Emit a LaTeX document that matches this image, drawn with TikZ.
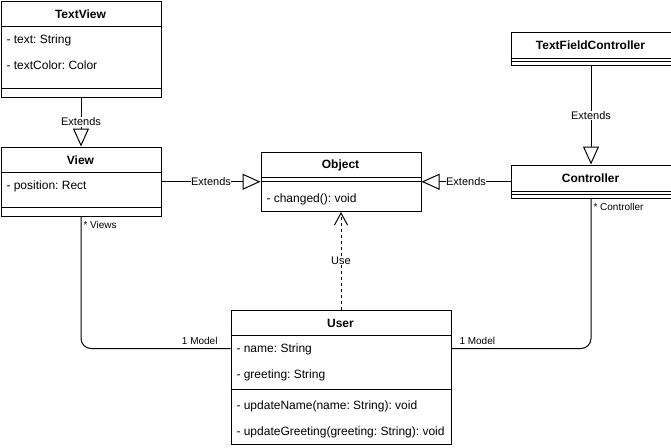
\documentclass[tikz,border=0pt]{standalone}
\usepackage{fontspec}
\setmainfont{Liberation Sans}
\usetikzlibrary{arrows.meta,calc}
\frenchspacing
\begin{document}
\begin{tikzpicture}[x=1pt,y=-1pt,line width=1pt,
  box/.style={draw=black,fill=white,inner sep=0pt,anchor=north west},
  title/.style={font=\fontsize{12}{14}\selectfont\bfseries,inner sep=0pt},
  attr/.style={font=\fontsize{12}{14}\selectfont,inner sep=0pt,anchor=west},
  elabel/.style={font=\fontsize{11}{13}\selectfont,fill=white,inner sep=0.5pt},
  mult/.style={font=\fontsize{10}{12}\selectfont,inner sep=0pt},
  gen/.style={-{Triangle[open,length=18pt,width=16pt]}},
  use/.style={dashed,dash pattern=on 3pt off 3pt,-{Straight Barb[length=12pt,width=13pt]}}]
\useasboundingbox (0,0) rectangle (671,447);
% TextView
\node[box,minimum width=160pt,minimum height=96pt] (tv) at (0.5,0.5) {};
\draw (0.5,26) -- (160.5,26);
\draw (0.5,88) -- (160.5,88);
\node[title] (tvt) at (80.5,14.5) {TextView};
\node[attr] (tva1) at (6,40.5) {- text: String};
\node[attr] (tva2) at (6,65.5) {- textColor: Color};
% View
\node[box,minimum width=160pt,minimum height=69.5pt] (view) at (0.5,146.5) {};
\draw (0.5,172) -- (160.5,172);
\draw (0.5,207) -- (160.5,207);
\node[title] (viewt) at (80.5,160.5) {View};
\node[attr] (viewa1) at (6,186.5) {- position: Rect};
% Object
\node[box,minimum width=160pt,minimum height=59.5pt] (obj) at (260.5,151.5) {};
\draw (260.5,177) -- (420.5,177);
\draw (260.5,181) -- (420.5,181);
\node[title] (objt) at (340.5,165.5) {Object};
\node[attr] (objm1) at (266,199.5) {- changed(): void};
% TextFieldController
\node[box,minimum width=160pt,minimum height=33.5pt] (tfc) at (510.5,31.5) {};
\draw (510.5,58) -- (670.5,58);
\draw (510.5,61) -- (670.5,61);
\node[title] (tfct) at (590.5,45.5) {TextFieldController};
% Controller
\node[box,minimum width=160pt,minimum height=33.5pt] (ctrl) at (510.5,164.5) {};
\draw (510.5,191) -- (670.5,191);
\draw (510.5,194) -- (670.5,194);
\node[title] (ctrlt) at (590.5,178.5) {Controller};
% User
\node[box,minimum width=220pt,minimum height=134.5pt] (user) at (230.5,309.5) {};
\draw (230.5,335) -- (450.5,335);
\draw (230.5,389) -- (450.5,389);
\node[title] (usert) at (340.5,323.5) {User};
\node[attr] (usera1) at (236,349.5) {- name: String};
\node[attr] (usera2) at (236,375.5) {- greeting: String};
\node[attr] (userm1) at (236,406.5) {- updateName(name: String): void};
\node[attr] (userm2) at (236,432.5) {- updateGreeting(greeting: String): void};
% Generalizations
\draw[gen] (tv.south) -- node[elabel] {Extends} (view.north);
\draw[gen] (view.east) -- node[elabel] {Extends} (obj.west);
\draw[gen] (ctrl.west) -- node[elabel] {Extends} (obj.east);
\draw[gen] (tfc.south) -- node[elabel] {Extends} (ctrl.north);
% Use
\draw[use] (user.north) -- node[elabel] {Use} (obj.south);
% Associations
\draw[rounded corners=10pt] (view.south) |- ($(user.north west)+(0,39)$);
\draw[rounded corners=10pt] (ctrl.south) |- ($(user.north east)+(0,39)$);
\node[mult,anchor=west] (m1) at (83,224.5) {* Views};
\node[mult,anchor=east] (m2) at (218,340.5) {1 Model};
\node[mult,anchor=west] (m3) at (459,340.5) {1 Model};
\node[mult,anchor=west] (m4) at (593,206.5) {* Controller};
\end{tikzpicture}
\end{document}
